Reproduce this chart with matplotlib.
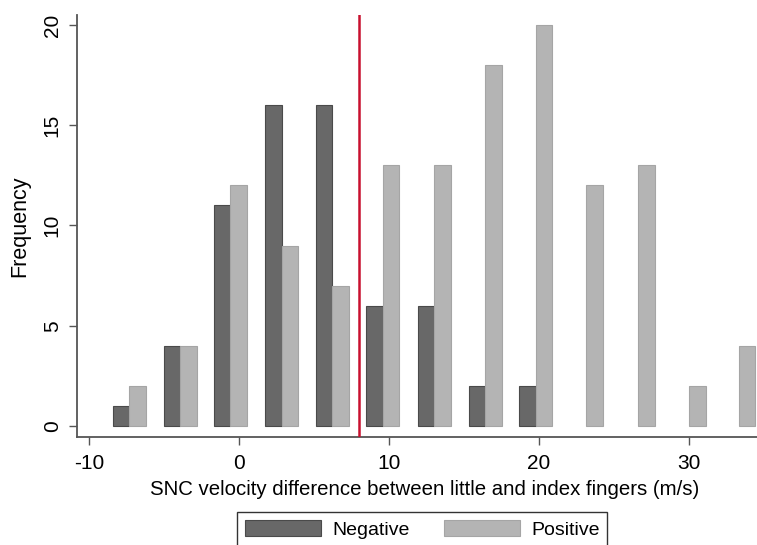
import matplotlib
matplotlib.use("Agg")
import matplotlib.pyplot as plt
from matplotlib.patches import Patch

# Data
bin_centers = [-7.33, -3.93, -0.6, 2.85, 6.22, 9.58, 13.02, 16.4, 19.78, 23.15, 26.6, 30.0, 33.33]
negative = [1, 4, 11, 16, 16, 6, 6, 2, 2, 0, 0, 0, 0]
positive = [2, 4, 12, 9, 7, 13, 13, 18, 20, 12, 13, 2, 4]
x_ticks = [-10, 0, 10, 20, 30]
y_ticks = [0, 5, 10, 15, 20]
cutoff = 8
series_labels = ["Negative", "Positive"]

plt.rcParams['font.family'] = ['Liberation Sans', 'DejaVu Sans']
plt.rcParams['axes.unicode_minus'] = False

fig = plt.figure(figsize=(7.57, 5.45), dpi=100)
ax = fig.add_axes([77/757, 1-437/545, 1-77/757, (437-15)/545])

dark = '#686868'
light = '#b4b4b4'
bw = 1.1
ax.bar([c - bw/2 for c in bin_centers], negative, width=bw, color=dark,
       edgecolor='#4a4a4a', linewidth=[0.8 if v > 0 else 0 for v in negative], zorder=2)
ax.bar([c + bw/2 for c in bin_centers], positive, width=bw, color=light,
       edgecolor='#a5a5a5', linewidth=[0.8 if v > 0 else 0 for v in positive], zorder=2)

ax.axvline(cutoff, color='#c8102e', linewidth=1.8, zorder=3)

ax.set_xlim(-10.8, 34.53)
ax.set_ylim(-0.55, 20.5)
ax.set_xticks(x_ticks)
ax.set_yticks(y_ticks)
ax.set_yticklabels([str(t) for t in y_ticks], rotation=90, va='center')

for s in ['top', 'right']:
    ax.spines[s].set_visible(False)
for s in ['left', 'bottom']:
    ax.spines[s].set_color('#555555')
    ax.spines[s].set_linewidth(1.3)

ax.tick_params(axis='both', direction='out', length=6, width=1.0, color='#555555',
               labelsize=15, labelcolor='black')
ax.tick_params(axis='y', pad=5)
ax.tick_params(axis='x', pad=6)

ax.set_xlabel('SNC velocity difference between little and index fingers (m/s)',
              fontsize=14.7, labelpad=5)
ax.xaxis.label.set_x(0.5 + 8/680)
ax.set_ylabel('Frequency', fontsize=15.5, labelpad=9)

handles = [Patch(facecolor=dark, edgecolor='#4a4a4a', linewidth=0.8),
           Patch(facecolor=light, edgecolor='#a5a5a5', linewidth=0.8)]
leg = fig.legend(handles, series_labels, loc='upper left',
                 bbox_to_anchor=(237/757, 1-512/545), bbox_transform=fig.transFigure,
                 ncol=2, fontsize=14, frameon=True, fancybox=False,
                 handlelength=3.9, handleheight=0.9, handletextpad=0.6,
                 columnspacing=1.75, borderpad=0.4, borderaxespad=0)
leg.get_frame().set_edgecolor('black')
leg.get_frame().set_linewidth(1.0)

fig.savefig('out.png', dpi=100)
